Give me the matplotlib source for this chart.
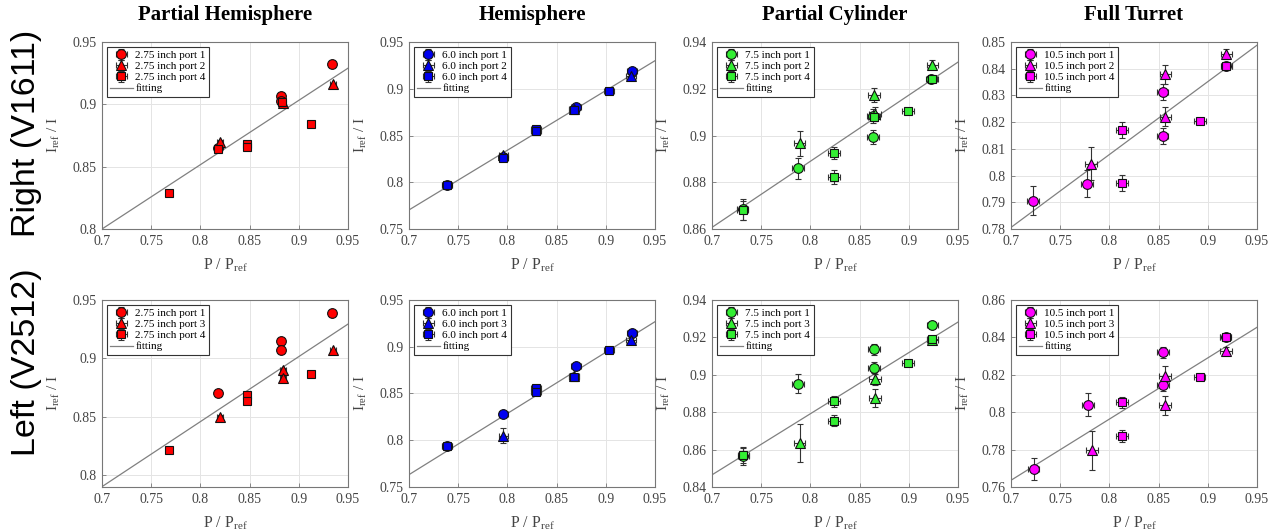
import numpy as np
import matplotlib
matplotlib.use('Agg')
import matplotlib.pyplot as plt
from matplotlib.ticker import FuncFormatter, MultipleLocator

plt.rcParams['font.family'] = ['Liberation Serif', 'DejaVu Serif']
plt.rcParams['mathtext.fontset'] = 'custom'
plt.rcParams['mathtext.rm'] = 'Liberation Serif'
plt.rcParams['mathtext.it'] = 'Liberation Serif:italic'

# ---------------- data ----------------
col_titles = ['Partial Hemisphere', 'Hemisphere', 'Partial Cylinder', 'Full Turret']
row_titles = ['Right (V1611)', 'Left (V2512)']
port_sizes = ['2.75', '6.0', '7.5', '10.5']
ports_right = [1, 2, 4]
ports_left = [1, 3, 4]
colors = ['#ff0000', '#0000f0', '#33ee33', '#ff00ff']

# series index 0 = first port (circle), 1 = second port (triangle), 2 = port 4 (square)
ph_r_x = [0.818, 0.882, 0.882, 0.934, 0.820, 0.884, 0.935, 0.768, 0.818, 0.847, 0.847, 0.883, 0.912]
ph_r_y = [0.865, 0.907, 0.903, 0.932, 0.870, 0.901, 0.916, 0.829, 0.864, 0.868, 0.866, 0.902, 0.884]
ph_r_e = [0.001, 0.001, 0.001, 0.001, 0.001, 0.001, 0.001, 0.001, 0.001, 0.001, 0.001, 0.001, 0.001]
ph_r_s = [0, 0, 0, 0, 1, 1, 1, 2, 2, 2, 2, 2, 2]
ph_r_fit = [0.800, 0.929]

h_r_x = [0.739, 0.796, 0.870, 0.927, 0.796, 0.868, 0.926, 0.739, 0.796, 0.829, 0.829, 0.868, 0.903]
h_r_y = [0.797, 0.827, 0.881, 0.919, 0.829, 0.878, 0.914, 0.797, 0.826, 0.857, 0.855, 0.877, 0.898]
h_r_e = [0.0015, 0.002, 0.0015, 0.0015, 0.002, 0.0015, 0.0015, 0.001, 0.001, 0.001, 0.001, 0.001, 0.001]
h_r_s = [0, 0, 0, 0, 1, 1, 1, 2, 2, 2, 2, 2, 2]
h_r_fit = [0.7704, 0.930]

pc_r_x = [0.731, 0.787, 0.864, 0.864, 0.923, 0.789, 0.865, 0.866, 0.924, 0.731, 0.824, 0.824, 0.865, 0.899, 0.924]
pc_r_y = [0.8685, 0.886, 0.9085, 0.8995, 0.924, 0.8967, 0.9174, 0.9093, 0.9303, 0.868, 0.8924, 0.8822, 0.908, 0.9103, 0.924]
pc_r_e = [0.0045, 0.0045, 0.003, 0.003, 0.0015, 0.0053, 0.003, 0.003, 0.002, 0.004, 0.0025, 0.003, 0.002, 0.0012, 0.0012]
pc_r_s = [0, 0, 0, 0, 0, 1, 1, 1, 1, 2, 2, 2, 2, 2, 2]
pc_r_fit = [0.8607, 0.9314]

ft_r_x = [0.722, 0.7776, 0.854, 0.854, 0.919, 0.781, 0.857, 0.857, 0.919, 0.813, 0.813, 0.892, 0.919]
ft_r_y = [0.7906, 0.797, 0.8312, 0.8149, 0.8409, 0.8044, 0.8379, 0.8221, 0.8455, 0.8172, 0.7974, 0.8206, 0.841]
ft_r_e = [0.0054, 0.005, 0.003, 0.003, 0.0015, 0.0062, 0.0035, 0.0035, 0.002, 0.003, 0.003, 0.001, 0.001]
ft_r_s = [0, 0, 0, 0, 0, 1, 1, 1, 1, 2, 2, 2, 2]
ft_r_fit = [0.7806, 0.8488]

ph_l_x = [0.818, 0.882, 0.882, 0.934, 0.820, 0.884, 0.884, 0.935, 0.768, 0.847, 0.847, 0.912]
ph_l_y = [0.8705, 0.915, 0.907, 0.939, 0.850, 0.890, 0.8836, 0.907, 0.822, 0.869, 0.864, 0.887]
ph_l_e = [0.0015, 0.0015, 0.0015, 0.0015, 0.0015, 0.0015, 0.0015, 0.0015, 0.001, 0.001, 0.001, 0.001]
ph_l_s = [0, 0, 0, 0, 1, 1, 1, 1, 2, 2, 2, 2]
ph_l_fit = [0.7903, 0.9294]

h_l_x = [0.739, 0.796, 0.870, 0.927, 0.796, 0.868, 0.926, 0.739, 0.829, 0.829, 0.868, 0.903]
h_l_y = [0.7936, 0.828, 0.8796, 0.915, 0.8046, 0.869, 0.907, 0.794, 0.8554, 0.852, 0.868, 0.896]
h_l_e = [0.0015, 0.002, 0.0015, 0.0015, 0.008, 0.002, 0.002, 0.001, 0.001, 0.001, 0.001, 0.001]
h_l_s = [0, 0, 0, 0, 1, 1, 1, 2, 2, 2, 2, 2]
h_l_fit = [0.7632, 0.9268]

pc_l_x = [0.732, 0.787, 0.8645, 0.8645, 0.924, 0.789, 0.8656, 0.8656, 0.924, 0.732, 0.824, 0.824, 0.899, 0.924]
pc_l_y = [0.8565, 0.8953, 0.9136, 0.9038, 0.9264, 0.8635, 0.8975, 0.8876, 0.9187, 0.857, 0.8858, 0.8754, 0.9062, 0.919]
pc_l_e = [0.005, 0.005, 0.003, 0.003, 0.0015, 0.0103, 0.003, 0.005, 0.002, 0.004, 0.003, 0.003, 0.001, 0.001]
pc_l_s = [0, 0, 0, 0, 0, 1, 1, 1, 1, 2, 2, 2, 2, 2]
pc_l_fit = [0.8465, 0.9282]

ft_l_x = [0.7229, 0.7779, 0.8542, 0.8542, 0.918, 0.782, 0.8569, 0.8569, 0.9186, 0.813, 0.813, 0.8916, 0.918]
ft_l_y = [0.7695, 0.8041, 0.832, 0.8143, 0.8402, 0.7796, 0.8196, 0.8037, 0.8327, 0.8052, 0.7873, 0.8189, 0.8402]
ft_l_e = [0.0059, 0.006, 0.003, 0.003, 0.0015, 0.0104, 0.005, 0.005, 0.002, 0.003, 0.003, 0.001, 0.0015]
ft_l_s = [0, 0, 0, 0, 0, 1, 1, 1, 1, 2, 2, 2, 2]
ft_l_fit = [0.7636, 0.8454]

x_err = [0.003, 0.005, 0.006, 0.006]
fit_x = [0.7, 0.95]

y_limits = [[(0.80, 0.95), (0.75, 0.95), (0.86, 0.94), (0.78, 0.85)],
            [(0.79, 0.95), (0.75, 0.95), (0.84, 0.94), (0.76, 0.86)]]
y_steps = [[0.05, 0.05, 0.02, 0.01],
           [0.05, 0.05, 0.02, 0.02]]

panels = [[(ph_r_x, ph_r_y, ph_r_e, ph_r_s, ph_r_fit),
           (h_r_x, h_r_y, h_r_e, h_r_s, h_r_fit),
           (pc_r_x, pc_r_y, pc_r_e, pc_r_s, pc_r_fit),
           (ft_r_x, ft_r_y, ft_r_e, ft_r_s, ft_r_fit)],
          [(ph_l_x, ph_l_y, ph_l_e, ph_l_s, ph_l_fit),
           (h_l_x, h_l_y, h_l_e, h_l_s, h_l_fit),
           (pc_l_x, pc_l_y, pc_l_e, pc_l_s, pc_l_fit),
           (ft_l_x, ft_l_y, ft_l_e, ft_l_s, ft_l_fit)]]

# ---------------- figure ----------------
W, H = 1284, 531
fig = plt.figure(figsize=(W / 100, H / 100), dpi=100)

ax_left_px = [102, 409, 712, 1011]
ax_w_px = 246
row_top_px = [42, 300]
ax_h_px = 187

markers = ['o', '^', 's']
msizes = [7, 7, 5.6]
fmt_tick = FuncFormatter(lambda v, p: ('%g' % round(v, 4)))
tick_gray = '#444444'
spine_gray = '#777777'

for r in range(2):
    ports = ports_right if r == 0 else ports_left
    for c in range(4):
        l = ax_left_px[c] / W
        b = 1 - (row_top_px[r] + ax_h_px) / H
        ax = fig.add_axes([l, b, ax_w_px / W, ax_h_px / H])
        xs, ys, es, ss, fit = panels[r][c]
        xs = np.array(xs); ys = np.array(ys); es = np.array(es); ss = np.array(ss)

        line_fit, = ax.plot(fit_x, fit, color='#808080', lw=0.9, zorder=2)
        handles = []
        for k in range(3):
            m = ss == k
            h = ax.errorbar(xs[m], ys[m], xerr=x_err[c], yerr=es[m], fmt=markers[k],
                            ms=msizes[k], mfc=colors[c], mec='#111111', mew=0.8,
                            ecolor='#333333', elinewidth=0.8, capsize=2.0, capthick=0.8,
                            zorder=3)
            handles.append(h)
        labels = ['%s inch port %d' % (port_sizes[c], p) for p in ports] + ['fitting']
        leg = ax.legend(handles + [line_fit], labels, loc='upper left', fontsize=8,
                        frameon=True, fancybox=False, edgecolor='#333333', framealpha=1,
                        borderaxespad=0.45, handlelength=2.0, handletextpad=0.25,
                        labelspacing=0.12, borderpad=0.3)
        leg.get_frame().set_linewidth(0.8)

        ax.set_xlim(0.7, 0.95)
        ax.set_ylim(*y_limits[r][c])
        ax.xaxis.set_major_locator(MultipleLocator(0.05))
        ax.yaxis.set_major_locator(MultipleLocator(y_steps[r][c]))
        ax.xaxis.set_major_formatter(fmt_tick)
        ax.yaxis.set_major_formatter(fmt_tick)
        ax.tick_params(direction='in', length=3, width=0.6, colors=spine_gray,
                       labelcolor=tick_gray, labelsize=10, pad=4)
        for s in ax.spines.values():
            s.set_color(spine_gray)
            s.set_linewidth(0.8)
        ax.grid(True, color='#e4e4e4', lw=0.7)
        ax.set_axisbelow(True)

        ax.set_xlabel(r'P / P$_{\rm ref}$', fontsize=11.5, color=tick_gray)
        ax.set_ylabel(r'I$_{\rm ref}$ / I', fontsize=11, color=tick_gray)
        ax.xaxis.set_label_coords(0.5, -28 / ax_h_px)
        ax.yaxis.set_label_coords(-40 / ax_w_px, 0.5)

        if r == 0:
            ax.set_title(col_titles[c], fontsize=15, fontweight='bold', pad=16)

fig.text(27 / W, 1 - 133 / H, row_titles[0], rotation=90, ha='center', va='center',
         fontsize=24.5, family=['Liberation Sans', 'DejaVu Sans'])
fig.text(27 / W, 1 - 362 / H, row_titles[1], rotation=90, ha='center', va='center',
         fontsize=24.5, family=['Liberation Sans', 'DejaVu Sans'])

fig.savefig('out.png', dpi=100)
